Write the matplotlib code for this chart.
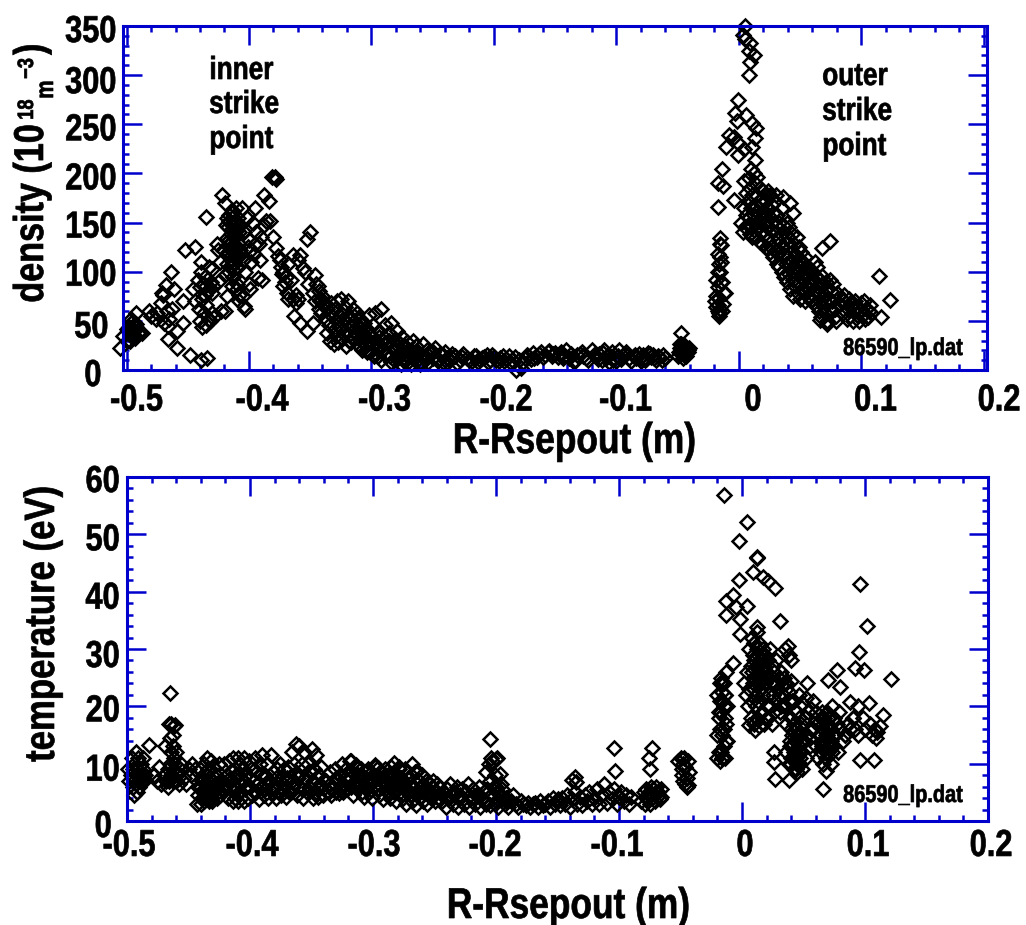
import matplotlib
matplotlib.use("Agg")
import matplotlib.pyplot as plt
from matplotlib.patheffects import AbstractPathEffect
from matplotlib.ticker import MultipleLocator
from matplotlib.transforms import Affine2D, ScaledTranslation

# density panel
dens_a_x = [-.505,-.503,-.500,-.499,-.498,-.497,-.497,-.496,-.496,-.495,-.494,-.494,-.493,-.492,-.491,-.499,-.496,-.494,-.492,-.489,
            -.492,-.487,-.482,-.480,-.476,-.475,-.471,-.470,-.468,-.467,-.466,-.465,-.464,-.472,-.469,-.463,-.466,-.461,-.459,-.454,-.454,-.459,-.448,-.439,-.434]
dens_a_n = [22,35,42,31,44,38,30,48,35,42,36,46,33,44,38,40,52,40,47,39,
            58,38,60,55,52,58,78,76,86,60,45,52,100,68,48,62,32,82,22,70,48,40,15,10,12]
dens_b_x = [-.446,-.444,-.442,-.441,-.440,-.440,-.439,-.438,-.438,-.437,-.437,-.436,-.436,-.435,-.435,-.434,-.433,-.432,-.431,-.430,-.429,-.428,-.426,-.425,-.424,
            -.452,-.444,-.439,-.435,-.430,-.425,-.422,-.420,-.418,-.433]
dens_b_n = [82,70,92,62,84,50,100,72,44,88,58,95,76,46,66,80,105,50,90,103,85,55,128,90,110,
            122,125,110,156,78,122,178,170,75,52]
dens_c_x = [-.430,-.423,-.421,-.419,-.418,-.417,-.416,-.416,-.415,-.415,-.414,-.414,-.413,-.413,-.412,-.412,-.411,-.411,-.410,-.410,-.409,-.409,-.408,-.408,-.407,-.406,-.405,-.404,-.404,-.403,
            -.402,-.401,-.400,-.399,-.398,-.397,-.396,-.395,-.394,-.393,-.392,-.391,-.390,-.389,-.388,-.410,-.405,-.400,-.395,-.388,-.384,-.383,-.381,-.379,-.378,-.420,-.414,-.408,-.403,-.398]
dens_c_n = [58,60,122,148,155,120,132,100,142,112,160,124,150,95,135,108,165,118,142,88,155,105,128,76,148,165,112,140,65,100,
            155,125,132,82,110,150,118,165,140,94,128,112,135,92,178,82,75,88,128,148,172,152,196,196,194,60,85,70,62,122]
dens_j_x = [-.418,-.417,-.417,-.416,-.416,-.415,-.415,-.415,-.414,-.414,-.414,-.413,-.413,-.413,-.412,-.412,-.412,-.411,-.411,-.410,-.419,-.418,-.416,-.413,-.411,-.409,-.408,-.407]
dens_j_n = [108,118,145,128,152,105,122,138,112,130,148,102,120,156,110,128,142,116,136,124,98,134,158,162,150,115,140,122]
dens_d_x = [-.386,-.380,-.378,-.376,-.374,-.372,-.372,-.370,-.369,-.368,-.366,-.364,-.364,-.362,-.360,-.360,-.358,-.358,-.356,-.354,-.353,-.353,-.352,-.350,-.348,-.348,-.346,-.346,-.344,-.343,
            -.342,-.341,-.340,-.338,-.337,-.336,-.363,-.368,-.362,-.375,-.373,-.371,-.345,-.343,-.341,-.339]
dens_d_n = [152,135,124,116,105,85,100,95,78,108,92,117,72,68,112,72,117,48,104,100,133,40,88,140,48,78,97,70,85,62,
            70,58,75,66,52,62,55,72,76,112,98,90,88,80,72,68]
dens_e_x = [-.336,-.335,-.334,-.333,-.332,-.331,-.330,-.330,-.329,-.328,-.328,-.327,-.326,-.325,-.325,-.324,-.323,-.322,-.322,-.321,-.320,-.319,-.318,-.318,-.317,-.316,-.315,-.314,-.314,-.313,
            -.312,-.311,-.310,-.310,-.309,-.308,-.307,-.306,-.305,-.304,-.303,-.302,-.301,-.300,-.299,-.298,-.297,-.296,-.295,-.294,-.293,-.292,-.291,-.290,-.289,-.288,-.287,-.286,-.285,-.284,
            -.283,-.282,-.281,-.280,-.279,-.278,-.277,-.276,-.275,-.274,-.273,-.272,-.271,-.270,-.268,-.266,-.265,-.264,-.262,-.260,-.258,-.256,-.255,-.254,-.252,-.250,-.248,-.246,-.244,-.242,-.240,-.238,-.236,-.234]
dens_e_n = [38,46,30,68,55,26,42,62,35,50,70,28,44,58,72,32,52,40,64,24,48,70,36,55,28,44,62,32,50,38,
            58,26,44,32,52,20,38,48,26,42,30,56,18,36,46,26,58,30,14,40,24,62,20,34,46,16,28,38,14,48,
            24,10,32,20,40,12,26,18,34,10,24,16,28,8,20,30,12,24,16,8,26,14,20,8,18,12,22,10,16,8,18,12,10,16]
dens_k_x = [-.326,-.323,-.320,-.318,-.316,-.314,-.312,-.310,-.308,-.306,-.304,-.302,-.300,-.298,-.296,-.294,-.292,-.290,-.288,-.286,-.284,-.282,-.280,-.278,-.276,-.274,-.272,-.270,-.268,-.266,-.264,-.262,-.260,-.258,-.256]
dens_k_n = [55,38,48,30,44,55,36,24,46,34,18,38,28,14,22,34,10,26,14,30,8,20,12,24,6,18,10,14,6,16,9,18,6,14,10]
dens_f_x = [-.232,-.228,-.225,-.222,-.218,-.215,-.212,-.208,-.205,-.202,-.198,-.195,-.192,-.188,-.185,-.182,-.178,-.175,-.172,-.170,-.168,-.165,-.162,-.158,-.155,-.152,-.148,-.145,-.143,-.141,
            -.139,-.137,-.135,-.132,-.128,-.125,-.120,-.117,-.114,-.112,-.110,-.108,-.106,-.104,-.102,-.100,-.098,-.095,-.092,-.090,-.086,-.084,-.082,-.080,-.078,-.076,-.074,-.072,-.070,-.068,-.065,-.062,-.060,
            -.050,-.049,-.048,-.047,-.046,-.045,-.044,-.043,-.042,-.041,-.048,-.046,-.044,-.042,-.047]
dens_f_n = [14,10,16,12,9,14,11,13,8,15,10,12,9,14,10,0,2,12,14,11,17,13,18,15,19,16,13,18,14,20,
            12,16,8,15,18,12,20,14,16,10,20,13,8,18,12,9,20,14,18,12,14,12,16,9,15,11,17,13,15,10,13,15,12,
            14,18,22,26,16,20,24,14,18,22,26,12,16,20,38]
dens_l_x = [-.250,-.246,-.242,-.238,-.234,-.230,-.226,-.220,-.216,-.213,-.210,-.206,-.203,-.200,-.196,-.193,-.190,-.186,-.183,-.180,-.176,-.173,-.167,-.163,-.160,-.156,-.153,-.150,-.146,-.144,-.134,-.130,-.127,-.123,-.118,-.115,-.111,-.107,-.103,-.099,-.096,-.093,-.088,-.085,-.081,-.077,-.073,-.069,-.066,-.063]
dens_l_n = [18,9,15,8,12,7,13,10,14,8,12,15,10,13,9,14,11,7,13,10,8,15,12,16,13,18,14,17,15,12,10,16,14,10,15,11,17,15,10,14,11,16,9,15,12,10,16,12,14,10]
dens_g_x = [-.0155,-.0150,-.0155,-.0165,-.0155,-.0175,-.0135,-.0175,-.0115,-.0190,-.0165,-.0130,-.0185,-.0155,-.0195,-.0165,
            -.0155,-.0170,-.0145,-.0190,-.0125,-.0165,-.0145,-.0135,-.0170,-.0175,
            -.0005,-.003,.006,-.002,.011,.014,.013,-.008,-.004,-.011,-.0005,.004,.011,-.0005,.013,-.014,-.017,-.013,-.017,-.004,.004,
            .005,.003,.005,.009,.008,.012,.009,.008]
dens_g_n = [134,127,115,108,100,100,90,84,78,75,73,67,64,62,70,58,
            128,118,110,92,78,55,90,60,66,60,
            275,261,259,253,251,246,236,239,237,227,231,225,227,219,214,205,190,187,166,173,192,
            350,341,337,333,325,320,313,300]
dens_h_x = [.002,.003,.004,.005,.006,.006,.007,.007,.008,.008,.009,.009,.010,.010,.010,.011,.011,.012,.012,.012,.013,.013,.014,.014,.014,.015,.015,.016,.016,.017,
            .017,.018,.018,.019,.019,.020,.020,.021,.021,.022,.022,.023,.023,.024,.024,.025,.025,.026,.026,.027,.027,.028,.028,.029,.029,.030,.030,.031,.031,.032,
            .032,.033,.033,.034,.034,.035,.035,.036,.036,.037,.037,.038,.038,.039,.039,.040,.040,.041,.041,.042,.042,.043,.043,.044,.044,.045,.045,.046,.046,.047,
            .047,.048,.048,.049,.049,.050,.050,.051,.051,.052,.052,.053,.053,.054,.054,.055,.055,.056,.056,.057,.058,.059,
            .036,.042,.044,.020,.024,.030]
dens_h_n = [150,140,165,145,180,158,172,148,195,155,138,185,205,165,148,178,135,200,158,142,190,168,150,178,135,162,196,145,172,130,
            185,155,140,170,128,160,182,138,150,125,172,145,165,132,158,120,178,142,125,168,150,115,160,138,172,122,148,108,158,132,
            118,150,105,138,125,165,100,148,118,95,140,128,108,150,90,135,115,98,145,125,82,110,138,92,75,128,105,85,118,135,
            98,78,112,125,90,105,72,120,95,82,110,78,100,115,70,95,85,105,75,90,82,70,
            176,170,160,170,182,178]
dens_i_x = [.056,.058,.059,.060,.061,.062,.062,.063,.063,.064,.064,.065,.065,.066,.066,.067,.067,.068,.068,.069,.069,.070,.070,.071,.071,.072,.072,.073,.074,.075,
            .075,.076,.077,.078,.079,.080,.082,.084,.085,.086,.087,.088,.089,.090,.091,.092,.093,.094,.095,.096,.097,.098,.099,.100,.101,.102,.103,.104,.105,.106,.107,.108,
            .114,.123,.116,.074,.0675,.066,.072,.079]
dens_i_n = [98,88,102,72,92,110,80,66,95,85,105,60,78,92,70,86,54,96,72,64,88,58,76,90,68,50,82,72,92,62,
            80,70,88,62,55,78,66,72,58,76,68,52,62,72,55,66,50,62,70,56,64,50,60,68,56,70,52,62,54,60,66,58,
            96,71,54,131,124,51,47,50]

# temperature panel
temp_a_x = [-.499,-.498,-.497,-.496,-.495,-.495,-.494,-.494,-.493,-.493,-.492,-.492,-.491,-.491,-.490,-.490,-.489,-.488,-.488,-.487,-.487,-.486,-.485,-.494,-.482,
            -.478,-.476,-.474,-.472,-.470,-.468,-.469,-.467,-.466,-.465,-.467,-.465,-.464,-.464,-.463,-.463,-.462,-.462,-.461,-.460,-.460,-.459,-.458,-.457,-.456,-.454,-.452,-.450,-.448,-.447,-.445,
            -.466,-.464,-.462,-.465,-.461,-.463,-.464]
temp_a_t = [9,7,8,11,6,9,7,10,8,12,5,9,7,11,8,6,10,8,7,9,11,7,8,4.5,13.2,
            8,7,9.5,6.5,8,7,13,9,7,14.5,6,10,12,8,13,7,9,11,10,7,12,8,6.5,9,10,7.5,6.5,9,8,10,9,
            17,17,16.5,22.3,16.8,15,7.5]
temp_b_x = [-.443,-.442,-.441,-.440,-.439,-.438,-.437,-.437,-.436,-.436,-.435,-.435,-.434,-.434,-.433,-.433,-.432,-.432,-.431,-.431,-.430,-.430,-.429,-.428,-.427,-.426,-.425,-.424,-.423,-.422,
            -.421,-.420,-.419,-.418,-.417,-.416,-.415,-.414,-.414,-.413,-.413,-.412,-.412,-.411,-.410,-.410,-.409,-.409,-.408,-.408,-.407,-.406,-.406,-.405,-.405,-.404,-.403,-.402,-.401,-.400,
            -.399,-.398,-.397,-.396,-.395,-.394,-.393,-.392,-.391,-.390,-.389,-.388,-.387,-.386,-.385,-.384,-.383,-.382,-.381,-.380,-.379,-.378,-.377,-.376,-.375,-.374,-.373,-.372,-.371,-.370,
            -.369,-.368,-.367,-.366,-.365,-.364,-.363,-.362,-.361,-.360,-.359,-.358,-.357,-.356,-.355,-.354,-.353,-.352,-.351,-.350,-.349,-.348,-.347,-.346,-.345,-.344,-.343,-.342,-.341,-.340]
temp_b_t = [3,6,9,3,7,5,10,3.5,8,5,11,4,7,9,3.5,6,10.5,5,8,3.5,7,9.5,5,8,4,6.5,10,4.5,7,5.5,
            10,6,8,4,10.5,6,8.5,3.5,11,5,7.5,4,9,6,11,3.5,8,5,10,6.5,4,9,7,3.5,11,5.5,8,4,10.5,6,
            9,4.5,7,11,5,8.5,3.8,10,6,11.5,4.5,8,6.5,10,4,7,11.5,5,8.5,6,4,9,6.5,10,4.5,7.5,5.5,9,4.2,7,
            9.5,5,7.5,12,6,10,13.5,4.5,8,13,6,10,4,12,7.5,5,10,6,8.5,12.5,4,9,6.5,11.5,4.2,8,6,9.5,4.5,7]
temp_h_x = [-.442,-.440,-.439,-.438,-.437,-.436,-.435,-.434,-.433,-.432,-.431,-.430,-.428,-.426,-.424,-.420,-.416,-.413,-.411,-.408,-.405,-.403,-.400,-.397,-.394,-.391,-.388,-.385,-.382,-.379,-.376,-.373,-.370,-.367,-.364,-.361,-.358,-.355,-.352,-.349,-.346,-.343]
temp_h_t = [4.5,6,4,7,5.5,4,6.5,5,7.5,4.2,6,5,6.5,5,7,6.5,7.5,6,8,5,7,6,7.5,5,6.5,8,5.5,7,6,7.5,5,6.5,7.5,5,6.5,7.5,5.5,7.5,6,7,5,6.5]
temp_c_x = [-.338,-.336,-.335,-.334,-.332,-.331,-.330,-.329,-.328,-.327,-.326,-.325,-.324,-.323,-.322,-.321,-.320,-.319,-.318,-.317,-.316,-.315,-.314,-.313,-.312,-.311,-.310,-.309,-.308,-.307,
            -.306,-.305,-.304,-.303,-.302,-.301,-.300,-.299,-.298,-.297,-.296,-.295,-.294,-.293,-.292,-.291,-.290,-.289,-.288,-.287,-.286,-.285,-.284,-.283,-.282,-.281,-.280,-.279,-.278,-.277,
            -.276,-.275,-.274,-.273,-.272,-.271,-.270,-.269,-.268,-.267,-.266,-.265,-.264,-.263,-.262,-.261,-.260,-.259,-.258,-.257,-.256,-.255,-.254,-.253,-.252,-.251,-.250,-.249,-.248,-.247,
            -.335,-.330,-.325,-.320,-.315,-.310,-.305,-.300,-.295,-.290,-.285,-.280,-.275,-.270,-.265,-.260,-.255,-.250,
            -.318,-.314,-.298,-.296,-.283,-.279,-.268,-.264]
temp_c_t = [7,5,8.5,4.5,6.5,9,5,7.5,4.8,8,6,10,5,7.5,9,5.5,8,10.5,6,8.5,4.5,7,9.5,5.5,8,6.5,9,5,7.5,4.2,
            8.5,6,9,5,7,4,8,6,9.5,5.5,7.5,4.5,8.5,6,3.8,7,9,5,8,6,4,9.5,7,5,8,3.5,6.5,9,5,7.5,
            4,6.5,9,3,5.5,7.5,4.5,8,3.5,6,8.5,2.8,5,7,4,6,8,3.5,5.5,7,3,5,6.5,4,6,7,3.5,5,6.5,4,
            6.5,7.5,6,7,6.5,7.5,6,7,5.5,7,6,7,5.5,6.5,5,6,5.5,5,
            10.5,9.8,9.8,9.2,10.2,9.5,10,8.8]
temp_i_x = [-.334,-.329,-.324,-.319,-.314,-.309,-.304,-.299,-.294,-.289,-.284,-.279,-.274,-.269,-.264,-.259,-.254,-.249,-.244,-.239,-.234,-.229,-.224,-.219,-.214,-.209,-.204,-.200,-.196,-.192]
temp_i_t = [6,7,6.5,7.5,6,8,7,6,7.5,6.5,7,6,5.5,6,4.5,5,4.5,5,4.5,4,4.5,4,5,4,4.5,3.5,4.5,3.5,4,3.5]
temp_d_x = [-.246,-.244,-.243,-.241,-.240,-.238,-.237,-.235,-.234,-.232,-.231,-.229,-.228,-.226,-.225,-.223,-.222,-.220,-.219,-.217,-.216,-.214,-.213,-.211,-.210,-.208,-.207,-.205,-.204,-.202,
            -.201,-.199,-.198,-.196,-.195,-.193,-.192,-.190,-.188,-.186,-.184,-.182,-.180,-.178,-.176,-.174,-.172,-.170,-.168,-.166,-.164,-.162,-.160,-.158,-.156,-.154,-.152,-.150,-.148,-.146,
            -.144,-.142,-.140,-.138,-.136,-.134,-.132,-.130,-.128,-.126,-.124,-.122,-.120,-.118,-.116,-.114,-.112,-.110,-.108,-.106,-.104,-.102,-.100,-.098,-.096,-.094,-.092,-.090,
            -.208,-.206,-.204,-.203,-.201,-.200,-.199,-.197,-.205,-.200,-.196,-.198,-.205,-.138,-.136,-.135,-.104,-.103,-.076,-.073,-.075]
temp_d_t = [6,3.5,5,2.5,5.5,4,6.5,3,5,6,2.5,4.5,5.5,3,5,6.5,2.5,4,5.5,3,4.5,6,2.5,4,5,3,5.5,2.8,4.5,6,
            3,5,2.5,4,5.5,3,4,2.5,3.5,4.5,3,2.5,3.5,3,2.8,3.2,2.5,3,3.2,2.5,3.5,2.8,3,3.5,2.5,4,3,3.8,2.8,4,
            3,4.5,2.5,3.8,5,3,4.2,2.8,4.5,3.5,5,3,4,5.5,3,4.5,6.5,3.2,5,3.8,5.5,3,4.2,5,3.5,4.5,3,4.2,
            8.5,10,11,10.5,8,10.8,11,8.2,14.3,6,6.5,5,7,7.2,7.6,6.8,12.8,8.8,11,12.8,9]
temp_e_x = [-.082,-.080,-.079,-.078,-.077,-.076,-.075,-.074,-.073,-.072,-.071,-.070,-.069,-.068,-.067,-.066,-.078,-.074,-.070,-.066,
            -.052,-.050,-.049,-.048,-.047,-.046,-.045,-.044,-.043,-.048,-.046,-.044,-.049,-.045,
            -.020,-.019,-.018,-.017,-.016,-.015,-.014,-.013,-.020,-.018,-.016,-.014,-.012,-.019,-.017,-.015,-.013,-.020,-.018,-.016,-.014,-.019,-.017,-.015,-.013,-.016,-.014,-.018,-.016,-.015,-.012,-.007]
temp_e_t = [3.5,5,3,5.5,3.8,5,3,6,4,5.5,3.5,6,4.2,5,3.8,5.5,4.2,4.8,5,4.2,
            10.5,11,9,10,11,9.5,7.5,10.5,8.5,7,6.5,6.2,8,6,
            11,12,10.5,12,11,13,11,14,15,16,15,18,14,18,19,20,17,22,21,24,22,19,25,24,26,22.5,22,24,21,16,20,27.5]
temp_f_x = [-.015,.0043,-.0024,.012,.012,.0093,.0173,.0214,.027,-.0024,-.007,-.013,-.0049,.0038,-.0127,-.0016,-.0016,.0305,.012,.035,.037,.038,.040,
            .096,.102,.095,.092,.099,.121,.0776,.0702,.0797,.053,.103,.115,.112,.088,.094,.096,.107,.066,.027,.038,.026,.026,.0685,
            .098,.100,.104,.106,.108,.110,.109,.084,.086,.090,.092,.094,
            .034,.036,.038,.040,.042,.046,.049,.052,.030,.032,.056,.060,.058,.0053,.0106,.020]
temp_f_t = [56.8,52.1,48.8,45.8,46,43.5,42.6,41.8,40.6,42,39.4,38.3,37.4,37.5,36,35.3,32.7,34.9,33.9,30,30.5,29,28,
            41.3,34,29.5,26.6,26.3,24.8,26.3,24.6,23.4,24,20.5,18.5,16.5,20.8,20,10.7,10.6,5.5,7.4,7.2,10.3,12,8.7,
            18,16,17,15,16,15.5,14.5,15,17,18,16,15,
            25,24,22.5,24.5,21,22,20.5,21.5,22,20,19.5,19,21,16.8,15.9,18]
temp_g_x = [.002,.003,.004,.005,.006,.006,.007,.007,.008,.008,.009,.009,.010,.010,.010,.011,.011,.012,.012,.012,.013,.013,.014,.014,.014,.015,.015,.016,.016,.017,
            .017,.018,.018,.019,.019,.020,.020,.021,.021,.022,.022,.023,.023,.024,.024,.025,.025,.026,.026,.027,.028,.028,.029,.030,.031,.032,.033,.034,.035,.036,
            .034,.036,.038,.039,.040,.040,.041,.041,.042,.042,.043,.043,.044,.044,.045,.045,.046,.046,.047,.047,.048,.048,.049,.050,.051,.052,.053,.054,.055,.056,
            .058,.060,.061,.062,.063,.064,.064,.065,.065,.066,.066,.067,.067,.068,.068,.069,.070,.070,.071,.072,.072,.073,.074,.075,.076,.077,.078,.079,.080,.082,.084,.086,.088,.090]
temp_g_t = [24,22,26,20,30,23,18,27,32,21,25,29,17,23,31,20,27,33,18,24,29,21,26,31,16.5,23,28,19,25,30,
            22,27,17,24,29,20,26,18,28,22,25,20,30,24,17,27,22,19,26,24,21,28,23,25,19,26,22,24,20,23,
            20,17,21,13,18,10,15,21,12,17,9,14,19,11,16,8.5,13,18,10,15,12,17,9,14,18,11,15,19,13,16,
            16,13,17,11,15,18,12,14,19,10,16,13,18,11,15,19,12,17,14,10,16,20,13,18,15,17,12,19,16,14,15,17,16,18]
temp_j_x = [.008,.009,.010,.011,.012,.013,.014,.015,.016,.017,.010,.012,.014,.016,.036,.038,.039,.040,.041,.042,.043,.044,.045,.046,.047,.048,.040,.042,.044,.046,.064,.065,.066,.067,.068,.069,.070,.071,.072,.073,.074,.066,.068,.070,.072]
temp_j_t = [26,24,28,22,30,25,27,23,29,26,31,27,24,28,12,10,14,11,13,9,12,15,10,13,11,14,16,11,9,12,15,13,16,14,12,15,13,16,14,12,15,17,11,18,13]

xticks_label_top = [-.5, -.4, -.3, -.2, -.1, 0, .1, .2]
x_tick_text = ["-0.5", "-0.4", "-0.3", "-0.2", "-0.1", "0", "0.1", "0.2"]
dens_ticks = [0, 50, 100, 150, 200, 250, 300, 350]
temp_ticks = [0, 10, 20, 30, 40, 50, 60]

W, H = 1026, 925
BLUE = "#0000cd"
NARROW = 0.82
plt.rcParams['font.family'] = ['Liberation Sans', 'DejaVu Sans']
plt.rcParams['font.weight'] = 'bold'

fig = plt.figure(figsize=(W / 100, H / 100), dpi=100)


class Squeeze(AbstractPathEffect):
    # no narrow bold font here, so squeeze the glyph outlines sideways
    def __init__(self, anchor='left'):
        super().__init__()
        self.anchor = anchor

    def draw_path(self, renderer, gc, tpath, affine, rgbFace=None):
        box = tpath.get_extents()
        ref = {'left': box.x0, 'center': (box.x0 + box.x1) / 2, 'right': box.x1}[self.anchor]
        squeezed = Affine2D().translate(-ref, 0).scale(NARROW, 1).translate(ref, 0) + affine
        gc0 = renderer.new_gc()
        gc0.copy_properties(gc)
        gc0.set_linewidth(0.5)
        renderer.draw_path(gc0, tpath, squeezed, rgbFace)
        gc0.restore()


def make_axes(left, right, top, bottom):
    return fig.add_axes([left / W, 1 - bottom / H, (right - left) / W, (bottom - top) / H])


def style_axes(ax, yminor):
    for s in ax.spines.values():
        s.set_color(BLUE)
        s.set_linewidth(2.2)
    ax.set_xticks(xticks_label_top)
    ax.xaxis.set_minor_locator(MultipleLocator(0.02))
    ax.yaxis.set_minor_locator(MultipleLocator(yminor))
    ax.tick_params(which='major', direction='in', length=14, width=1.8, color=BLUE,
                   top=True, right=True, labelsize=27)
    ax.tick_params(which='minor', direction='in', length=4.5, width=1.8, color=BLUE,
                   top=True, right=True)


def shift_labels(labels, dx, dy, anchor):
    # the original labels sit a bit off their ticks
    for lab, a, b in zip(labels, dx, dy):
        off = ScaledTranslation(a / 100, -b / 100, fig.dpi_scale_trans)
        lab.set_transform(lab.get_transform() + off)
        lab.set_path_effects([Squeeze(anchor)])


def px_text(x, y, s, size, anchor='left', **kw):
    t = fig.text(x / W, 1 - y / H, s, fontsize=size, fontweight='bold', **kw)
    t.set_path_effects([Squeeze(anchor)])


def rot_text(x, y, s, size):
    px_text(x, y, s, size, rotation=90, ha='left', va='baseline', rotation_mode='anchor')


# top panel
ax1 = make_axes(123, 987, 26, 370)
ax1.set_xlim((123 - 739) / 1225, (987 - 739) / 1225)
ax1.set_ylim(0, 350)
style_axes(ax1, 10)
ax1.set_yticks(dens_ticks)
ax1.set_xticklabels(x_tick_text)
ax1.tick_params(axis='x', pad=9)
ax1.tick_params(axis='y', pad=4.5)
for xs, ys in [(dens_a_x, dens_a_n), (dens_b_x, dens_b_n), (dens_c_x, dens_c_n), (dens_j_x, dens_j_n),
               (dens_d_x, dens_d_n), (dens_e_x, dens_e_n), (dens_k_x, dens_k_n), (dens_f_x, dens_f_n),
               (dens_l_x, dens_l_n), (dens_g_x, dens_g_n), (dens_h_x, dens_h_n), (dens_i_x, dens_i_n)]:
    ax1.plot(xs, ys, 'D', mfc='none', mec='k', ms=7.6, mew=1.8, clip_on=False)
shift_labels(ax1.get_xticklabels(), [10, 13, 13, 12, 9, 14, 14, 15], [0] * 8, 'center')
shift_labels(ax1.get_yticklabels(), [-15, -8, 0, 0, 0, 0, 0, 0], [2, 3, 0, 1, 2, 2, 4, 2], 'right')

rot_text(43, 303, "density (10", 30)
rot_text(33, 120, "18", 16)
rot_text(53, 99, "m", 18)
rot_text(33, 79, "\u22123", 16)
rot_text(43, 55, ")", 30)
px_text(574, 453, "R-Rsepout (m)", 31, anchor='center', ha='center', va='baseline')
for yy, s in zip([79, 113, 148], ["inner", "strike", "point"]):
    px_text(209, yy, s, 23, ha='left', va='baseline')
for yy, s in zip([85, 120, 155], ["outer", "strike", "point"]):
    px_text(822, yy, s, 23, ha='left', va='baseline')
px_text(843, 355, "86590_lp.dat", 17.5, ha='left', va='baseline')

# bottom panel
ax2 = make_axes(127, 988, 477, 821)
ax2.set_xlim(-0.5, 0.2)
ax2.set_ylim(0, 60)
style_axes(ax2, 2)
ax2.set_yticks(temp_ticks)
ax2.set_xticklabels(x_tick_text)
ax2.tick_params(axis='x', pad=5)
ax2.tick_params(axis='y', pad=5)
for xs, ys in [(temp_a_x, temp_a_t), (temp_b_x, temp_b_t), (temp_h_x, temp_h_t), (temp_c_x, temp_c_t),
               (temp_i_x, temp_i_t), (temp_d_x, temp_d_t), (temp_e_x, temp_e_t), (temp_f_x, temp_f_t),
               (temp_g_x, temp_g_t), (temp_j_x, temp_j_t)]:
    ax2.plot(xs, ys, 'D', mfc='none', mec='k', ms=7.6, mew=1.8, clip_on=False)
shift_labels(ax2.get_xticklabels(), [2, 2, 1, -1, -2, 3, 3, 3], [0] * 8, 'center')
shift_labels(ax2.get_yticklabels(), [-8, 0, 0, 0, 0, 0, 0], [2, 3, 1, 4, 3, 2, 1], 'right')

rot_text(54, 762, "temperature (eV)", 30.5)
px_text(568, 918, "R-Rsepout (m)", 31, anchor='center', ha='center', va='baseline')
px_text(843, 802, "86590_lp.dat", 17.5, ha='left', va='baseline')

fig.savefig("out.png", dpi=100)
